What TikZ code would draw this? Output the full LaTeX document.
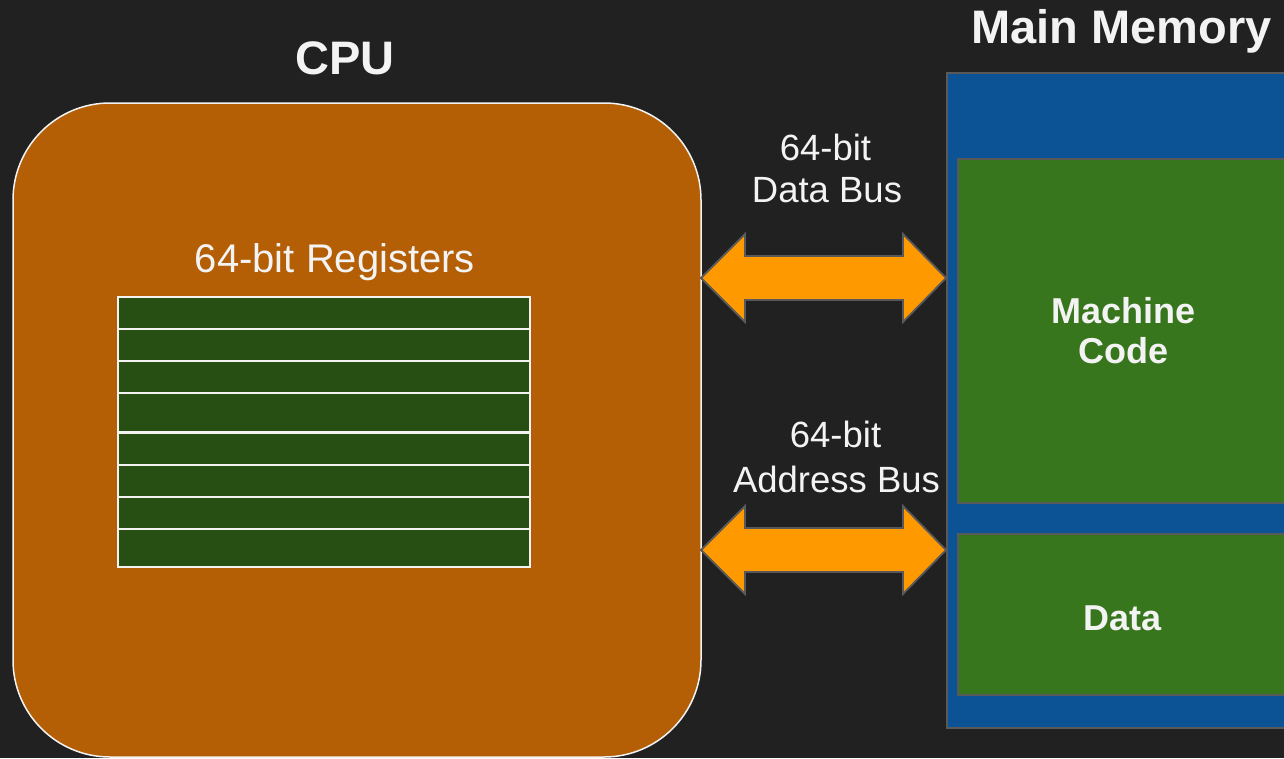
\documentclass[tikz,border=0pt]{standalone}
\usepackage{fontspec}
\setmainfont{Liberation Sans}
\usetikzlibrary{calc}
\definecolor{bgc}{HTML}{212121}
\definecolor{cpuc}{HTML}{B45F06}
\definecolor{regc}{HTML}{274E13}
\definecolor{memc}{HTML}{0B5394}
\definecolor{grnc}{HTML}{38761D}
\definecolor{orgc}{HTML}{FF9900}
\definecolor{brdc}{HTML}{595959}
\definecolor{txtc}{HTML}{F3F3F3}
\tikzset{
  title/.style={text=txtc,font=\fontsize{47}{52}\selectfont\bfseries,anchor=base,inner sep=0pt},
  buslabel/.style={text=txtc,font=\fontsize{36.5}{42}\selectfont,anchor=base,inner sep=0pt},
  memlabel/.style={text=txtc,font=\fontsize{36}{40}\selectfont\bfseries,anchor=base,inner sep=0pt},
  reglabel/.style={text=txtc,font=\fontsize{40}{44}\selectfont,anchor=base,inner sep=0pt},
  regrow/.style={draw=txtc,fill=regc,line width=1.5pt},
  busarrow/.style={draw=brdc,fill=orgc,line width=1.8pt,line join=miter},
  membox/.style={draw=brdc,line width=1.5pt},
}
\begin{document}
\begin{tikzpicture}[x=1pt,y=-1pt]
\useasboundingbox (0,0) rectangle (1284,758);
\clip (0,0) rectangle (1284,758);
\fill[bgc] (0,0) rectangle (1284,758);
% CPU
\draw[fill=cpuc,draw=txtc,line width=1.5pt,rounded corners=97pt] (13,103) rectangle (701,757);
\coordinate (cpuE1) at (701,278);
\coordinate (cpuE2) at (701,550);
\node[title] (cputitle) at (345,74) {CPU};
\node[reglabel] (reglab) at (335,272) {64-bit Registers};
\foreach \a/\b in {297/329,329/361,361/393,393/432,433/465,465/497,497/529,529/567}
  \draw[regrow] (118,\a) rectangle (530,\b);
% Memory
\draw[membox,fill=memc] (947,73) rectangle (1300,728);
\draw[membox,fill=grnc] (958,159) rectangle (1300,503);
\draw[membox,fill=grnc] (958,534) rectangle (1300,695);
\coordinate (memW1) at (946,278);
\coordinate (memW2) at (946,550);
\node[title] (memtitle) at (1121.5,43) {Main Memory};
\node[memlabel] (mc1) at (1123.5,323) {Machine};
\node[memlabel] (mc2) at (1123.5,363) {Code};
\node[memlabel] (dat) at (1122.5,630) {Data};
% Buses
\draw[busarrow] (cpuE1) -- ++(44,-44) -- ++(0,22) -- ($(memW1)+(-43,-22)$) -- ++(0,-22) -- (memW1)
  -- ++(-43,44) -- ++(0,-22) -- ($(cpuE1)+(44,22)$) -- ++(0,22) -- cycle;
\draw[busarrow] (cpuE2) -- ++(44,-44) -- ++(0,22) -- ($(memW2)+(-43,-22)$) -- ++(0,-22) -- (memW2)
  -- ++(-43,44) -- ++(0,-22) -- ($(cpuE2)+(44,22)$) -- ++(0,22) -- cycle;
\node[buslabel] (db1) at (825.5,160) {64-bit};
\node[buslabel] (db2) at (827,202) {Data Bus};
\node[buslabel] (ab1) at (835.5,447) {64-bit};
\node[buslabel] (ab2) at (836.5,492) {Address Bus};
\end{tikzpicture}
\end{document}
